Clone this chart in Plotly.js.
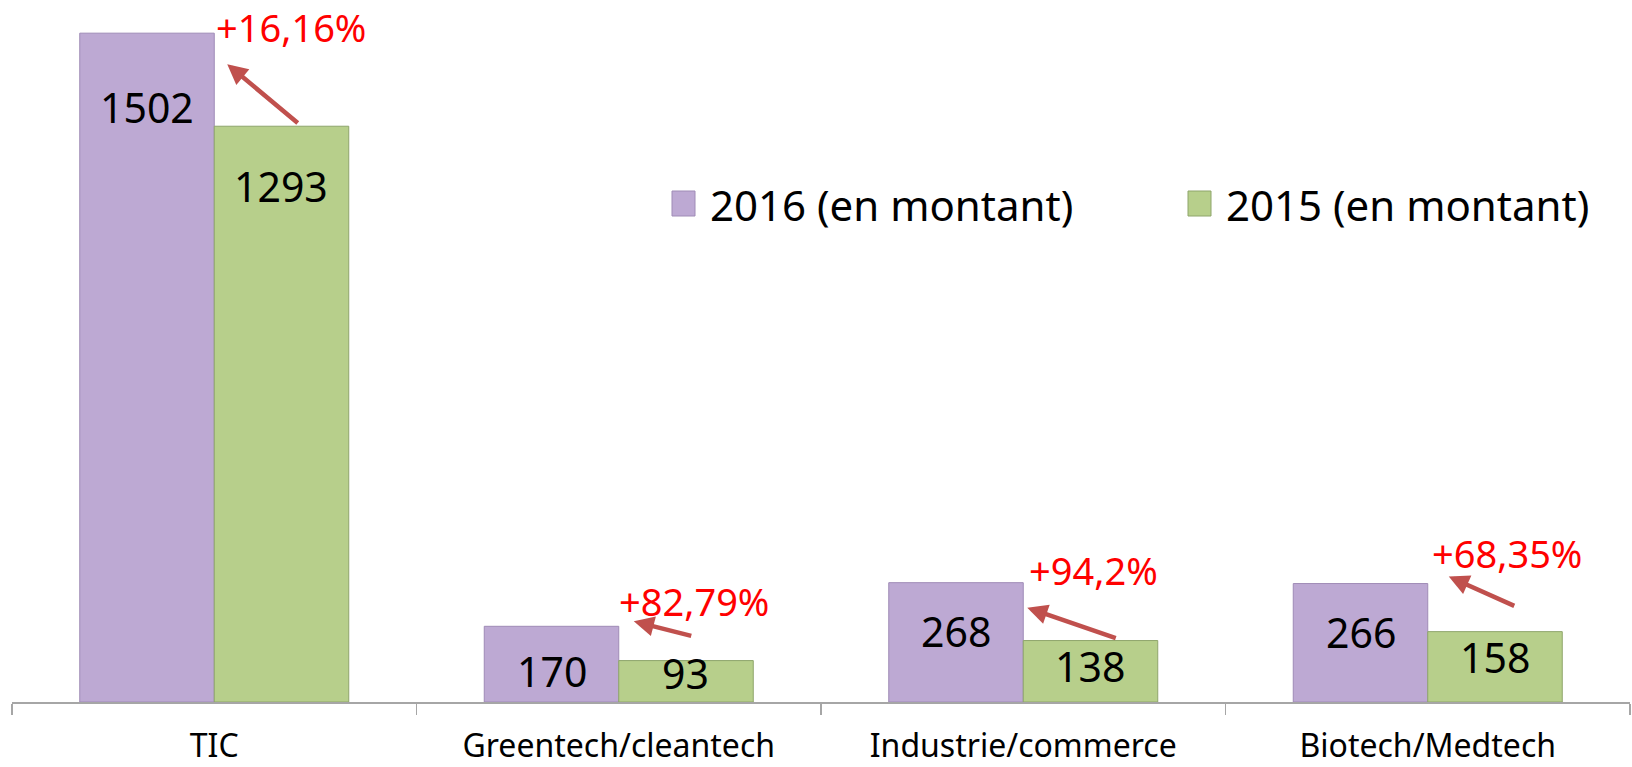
<!DOCTYPE html>
<html>
<head>
<meta charset="utf-8">
<script src="https://cdn.plot.ly/plotly-3.0.1.min.js"></script>
<style>
  html, body { margin: 0; padding: 0; background: #ffffff; }
  #chart { width: 1632px; height: 767px; }
</style>
</head>
<body>
<div id="chart"></div>
<script>
// ---- data ----
const categories = ['TIC', 'Greentech/cleantech', 'Industrie/commerce', 'Biotech/Medtech'];
const values2016 = [1502, 170, 268, 266];
const values2015 = [1293, 93, 138, 158];
const growthLabels = ['+16,16%', '+82,79%', '+94,2%', '+68,35%'];
const seriesNames = ['2016 (en montant)', '2015 (en montant)'];

// ---- styling / layout constants ----
const W = 1632, H = 767;
const M = { l: 12, r: 2, t: 10, b: 65 };
const plotW = W - M.l - M.r, plotH = H - M.t - M.b;
const yMax = 1554;
const FONT = '"Noto Sans", "Open Sans", sans-serif';
const PURPLE = '#BDA9D3', PURPLE_LINE = '#9F8BB6';
const GREEN = '#B7CF8B', GREEN_LINE = '#8EA56B';
const ARROW = '#C0504D';
const catPx = plotW / categories.length;
const barPx = catPx * (1 - 0.335) / 2;

// label offsets (px below bar top, centre of text)
const drop2016 = [74, 45, 48, 48];
const drop2015 = [60, 12, 25, 25];
// growth label offsets relative to purple bar top / category centre
const growthDx = [77, 75, 70, 79];
const growthDy = [6, 25, 13, 31];
// arrow geometry: head relative to (category centre, purple top), tail relative to head
const headDx = [13, 15, 4, 21];
const headDy = [31, -5, 25, -7];
const tailAx = [72, 59, 90, 67];
const tailAy = [60, 15, 31, 30];

const traces = [
  {
    type: 'bar', name: seriesNames[0], x: categories, y: values2016,
    marker: { color: PURPLE, line: { color: PURPLE_LINE, width: 1 } },
    hoverinfo: 'x+y', showlegend: false
  },
  {
    type: 'bar', name: seriesNames[1], x: categories, y: values2015,
    marker: { color: GREEN, line: { color: GREEN_LINE, width: 1 } },
    hoverinfo: 'x+y', showlegend: false
  }
];

const annotations = [];
categories.forEach((c, i) => {
  annotations.push({
    x: c, y: values2016[i], xref: 'x', yref: 'y', text: String(values2016[i]),
    showarrow: false, xanchor: 'center', yanchor: 'middle',
    xshift: -barPx / 2, yshift: -drop2016[i],
    font: { family: FONT, size: 41, color: '#000000' }
  });
  annotations.push({
    x: c, y: values2015[i], xref: 'x', yref: 'y', text: String(values2015[i]),
    showarrow: false, xanchor: 'center', yanchor: 'middle',
    xshift: barPx / 2, yshift: -drop2015[i],
    font: { family: FONT, size: 41, color: '#000000' }
  });
  annotations.push({
    x: c, y: values2016[i], xref: 'x', yref: 'y', text: growthLabels[i],
    showarrow: false, xanchor: 'center', yanchor: 'middle',
    xshift: growthDx[i], yshift: growthDy[i],
    font: { family: FONT, size: 38, color: '#FF0000' }
  });
  annotations.push({
    x: c, y: values2016[i], xref: 'x', yref: 'y', text: '',
    showarrow: true, arrowhead: 2, arrowsize: 0.9, arrowwidth: 4.5,
    arrowcolor: ARROW, standoff: 0, startstandoff: 0,
    ax: tailAx[i], ay: tailAy[i],
    xshift: headDx[i], yshift: -headDy[i]
  });
});

// custom legend
const px2paperX = px => (px - M.l) / plotW;
const px2paperY = py => (M.t + plotH - py) / plotH;
const legendItems = [
  { name: seriesNames[0], color: PURPLE, line: PURPLE_LINE, x: 672 },
  { name: seriesNames[1], color: GREEN, line: GREEN_LINE, x: 1188 }
];
const shapes = [];
legendItems.forEach(it => {
  shapes.push({
    type: 'rect', xref: 'paper', yref: 'paper',
    x0: px2paperX(it.x), x1: px2paperX(it.x + 23),
    y0: px2paperY(216), y1: px2paperY(191),
    fillcolor: it.color, line: { color: it.line, width: 1 }
  });
  annotations.push({
    xref: 'paper', yref: 'paper', x: px2paperX(it.x + 36), y: px2paperY(204),
    text: it.name, showarrow: false, xanchor: 'left', yanchor: 'middle',
    font: { family: FONT, size: 42, color: '#000000' }
  });
});

const layout = {
  width: W, height: H,
  margin: M,
  paper_bgcolor: '#ffffff', plot_bgcolor: '#ffffff',
  barmode: 'group', bargap: 0.335, bargroupgap: 0,
  showlegend: false,
  font: { family: FONT },
  xaxis: {
    type: 'category', range: [-0.5, 3.5], fixedrange: true,
    showline: true, linecolor: '#A6A6A6', linewidth: 1.5,
    ticks: 'outside', ticklen: 11, tickcolor: '#A6A6A6', tickwidth: 1.5,
    tickson: 'boundaries', showgrid: false, zeroline: false,
    ticklabelstandoff: 15,
    tickfont: { family: FONT, size: 32, color: '#000000' }
  },
  yaxis: {
    range: [0, yMax], visible: false, showgrid: false, zeroline: false, fixedrange: true
  },
  annotations: annotations,
  shapes: shapes
};

Plotly.newPlot('chart', traces, layout, { displayModeBar: false, staticPlot: true });
</script>
</body>
</html>
